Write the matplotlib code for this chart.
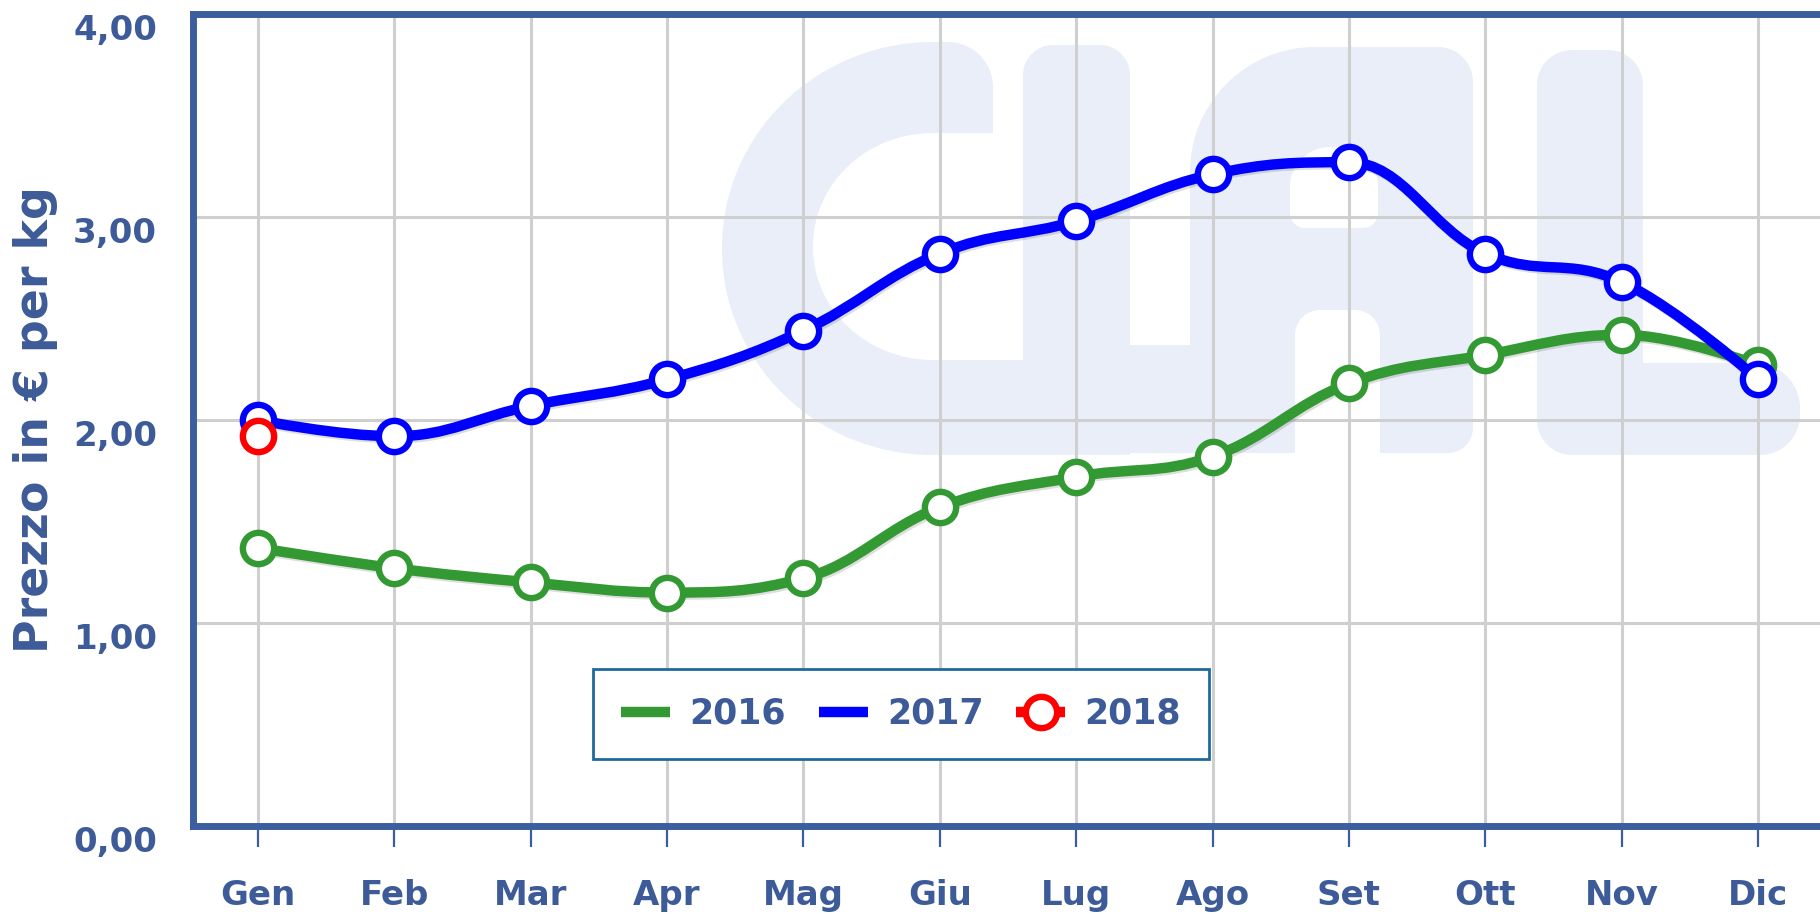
import numpy as np
import matplotlib
matplotlib.use('Agg')
import matplotlib.pyplot as plt
from matplotlib.path import Path
from matplotlib.patches import PathPatch
from matplotlib.lines import Line2D
import matplotlib.transforms as mtransforms
import matplotlib.patheffects as pe

# ---------------- data ----------------
months = ['Gen', 'Feb', 'Mar', 'Apr', 'Mag', 'Giu', 'Lug', 'Ago', 'Set', 'Ott', 'Nov', 'Dic']
prezzi_2016 = [1.37, 1.27, 1.20, 1.15, 1.22, 1.57, 1.72, 1.82, 2.18, 2.32, 2.42, 2.27]
prezzi_2017 = [2.00, 1.92, 2.07, 2.20, 2.44, 2.82, 2.98, 3.21, 3.27, 2.82, 2.68, 2.20]
prezzi_2018 = [1.92]
series_names = ['2016', '2017', '2018']
y_ticks = [0, 1, 2, 3, 4]
y_tick_labels = ['0,00', '1,00', '2,00', '3,00', '4,00']
y_label = 'Prezzo in € per kg'

# ---------------- style ----------------
c16, c17, c18 = '#339933', '#0000ff', '#ff0000'
axis_color = '#3b5e9e'
text_color = '#3d5b98'
grid_color = '#cfcfcf'
wm_color = '#e9eef9'
LW = 7.5
MS = 22.5
MEW = 4.6
TICK_FS = 24.5

W, H = 1820, 914
fig = plt.figure(figsize=(W / 100, H / 100), dpi=100)
ax_left, ax_top, ax_bottom, ax_right = 192.5, 14, 826, 1823.5
ax = fig.add_axes([ax_left / W, 1 - ax_bottom / H, (ax_right - ax_left) / W, (ax_bottom - ax_top) / H])
ax.set_xlim(-0.48, 11.48)
ax.set_ylim(0, 4)


def spline_path(xs, ys, smoothing=1.5):
    """Highcharts-style spline through the points."""
    n = len(xs)
    right = [None] * n
    verts = [(xs[0], ys[0])]
    codes = [Path.MOVETO]
    for i in range(1, n):
        px, py = xs[i], ys[i]
        lx, ly = px, py
        if i < n - 1:
            lastX, lastY = xs[i - 1], ys[i - 1]
            nextX, nextY = xs[i + 1], ys[i + 1]
            denom = smoothing + 1
            lcx = (smoothing * px + lastX) / denom
            lcy = (smoothing * py + lastY) / denom
            rcx = (smoothing * px + nextX) / denom
            rcy = (smoothing * py + nextY) / denom
            corr = 0
            if rcx != lcx:
                corr = (rcy - lcy) * (rcx - px) / (rcx - lcx) + py - rcy
            lcy += corr
            rcy += corr
            if lcy > lastY and lcy > py:
                lcy = max(lastY, py); rcy = 2 * py - lcy
            elif lcy < lastY and lcy < py:
                lcy = min(lastY, py); rcy = 2 * py - lcy
            if rcy > nextY and rcy > py:
                rcy = max(nextY, py); lcy = 2 * py - rcy
            elif rcy < nextY and rcy < py:
                rcy = min(nextY, py); lcy = 2 * py - rcy
            lx, ly = lcx, lcy
            right[i] = (rcx, rcy)
        prev_r = right[i - 1] if right[i - 1] is not None else (xs[i - 1], ys[i - 1])
        verts += [prev_r, (lx, ly), (px, py)]
        codes += [Path.CURVE4] * 3
    return Path(verts, codes)


# ---------------- watermark (decorative logo) ----------------
K = 0.5523


def rr_path(x0, y0, x1, y1, tl=0, trr=0, br=0, bl=0):
    def r2(r):
        return (r, r) if np.isscalar(r) else r
    tl, trr, br, bl = map(r2, (tl, trr, br, bl))
    verts, codes = [], []

    def corner(p0, c, p3):
        verts.extend([(p0[0] + K * (c[0] - p0[0]), p0[1] + K * (c[1] - p0[1])),
                      (p3[0] + K * (c[0] - p3[0]), p3[1] + K * (c[1] - p3[1])), p3])
        codes.extend([Path.CURVE4] * 3)
    verts.append((x0 + tl[0], y0)); codes.append(Path.MOVETO)
    verts.append((x1 - trr[0], y0)); codes.append(Path.LINETO)
    corner((x1 - trr[0], y0), (x1, y0), (x1, y0 + trr[1]))
    verts.append((x1, y1 - br[1])); codes.append(Path.LINETO)
    corner((x1, y1 - br[1]), (x1, y1), (x1 - br[0], y1))
    verts.append((x0 + bl[0], y1)); codes.append(Path.LINETO)
    corner((x0 + bl[0], y1), (x0, y1), (x0, y1 - bl[1]))
    verts.append((x0, y0 + tl[1])); codes.append(Path.LINETO)
    corner((x0, y0 + tl[1]), (x0, y0), (x0 + tl[0], y0))
    verts.append((x0 + tl[0], y0)); codes.append(Path.CLOSEPOLY)
    return Path(verts, codes)


px_tr = mtransforms.Affine2D().scale(1 / W, -1 / H).translate(0, 1) + fig.transFigure
wm_fill = [
    (722, 42, 993, 455, dict(tl=(211, 206), trr=45, bl=(211, 206))),
    (933, 360, 1030, 455, {}),
    (1023, 45, 1130, 455, dict(tl=30, trr=30)),
    (1125, 345, 1195, 453, {}),
    (1190, 47, 1473, 453, dict(tl=(125, 125), trr=35, br=25)),
    (1537, 50, 1643, 455, dict(tl=35, trr=35, bl=35)),
    (1600, 363, 1800, 455, dict(trr=45, br=40)),
]
wm_cut = [
    (813, 133, 1023, 360, dict(tl=(120, 113), bl=(120, 113), br=12)),
    (1290, 147, 1378, 228, dict(tl=40, trr=40, br=15, bl=15)),
    (1295, 310, 1380, 470, dict(tl=25, trr=25)),
]
for x0, y0, x1, y1, kw in wm_fill:
    ax.add_patch(PathPatch(rr_path(x0, y0, x1, y1, **kw), transform=px_tr,
                           facecolor=wm_color, edgecolor='none', zorder=0.1))
for x0, y0, x1, y1, kw in wm_cut:
    ax.add_patch(PathPatch(rr_path(x0, y0, x1, y1, **kw), transform=px_tr,
                           facecolor='white', edgecolor='none', zorder=0.2))

# ---------------- series ----------------
x = np.arange(len(months))
shadow = [pe.SimpleLineShadow(offset=(1.2, -1.5), shadow_color='black', alpha=0.13), pe.Normal()]
for vals, color, z in [(prezzi_2016, c16, 3), (prezzi_2017, c17, 5)]:
    xs = x[:len(vals)]
    ax.add_patch(PathPatch(spline_path(list(xs), list(vals)), fill=False, edgecolor=color,
                           lw=LW, capstyle='round', joinstyle='round', zorder=z,
                           path_effects=shadow))
    ax.plot(xs, vals, linestyle='none', marker='o', ms=MS, mew=MEW, mec=color,
            mfc='white', zorder=z + 0.5)
ax.plot(x[:len(prezzi_2018)], prezzi_2018, linestyle='none', marker='o', ms=MS, mew=MEW,
        mec=c18, mfc='white', zorder=7)

# ---------------- axes styling ----------------
ax.set_axisbelow(True)
ax.grid(True, color=grid_color, lw=2.2)
ax.spines['right'].set_visible(False)
for s in ['left', 'top', 'bottom']:
    ax.spines[s].set_color(axis_color)
    ax.spines[s].set_linewidth(5)

ax.set_xticks(x)
ax.set_xticklabels(months)
ax.set_yticks(y_ticks)
ax.set_yticklabels(y_tick_labels)
ax.tick_params(axis='x', direction='out', length=15, width=1.6, color=axis_color,
               pad=23, labelsize=TICK_FS, labelcolor=text_color)
ax.tick_params(axis='y', length=0, pad=25.5, labelsize=TICK_FS, labelcolor=text_color)
for lab in ax.get_xticklabels() + ax.get_yticklabels():
    lab.set_fontweight('bold')
off = mtransforms.ScaledTranslation(0, -0.13, fig.dpi_scale_trans)
for t in ax.yaxis.get_major_ticks():
    t.label1.set_transform(t.label1.get_transform() + off)

ax.set_ylabel(y_label, fontsize=33, fontweight='bold', color=text_color, va='center')
ax.yaxis.set_label_coords((36 - ax_left) / (ax_right - ax_left), 0.5)

# ---------------- legend ----------------
handles = [
    Line2D([], [], color=c16, lw=LW, solid_capstyle='butt'),
    Line2D([], [], color=c17, lw=LW, solid_capstyle='butt'),
    Line2D([], [], color=c18, lw=LW, solid_capstyle='butt', marker='o', ms=MS, mew=MEW,
           mfc='white', mec=c18),
]
leg = ax.legend(handles, series_names, loc='center', bbox_to_anchor=(901 / W, 1 - 714 / H),
                bbox_transform=fig.transFigure, ncol=3, frameon=True, fancybox=False,
                edgecolor='#1f6a9a', framealpha=1, prop={'weight': 'bold', 'size': 25},
                handlelength=1.41, handletextpad=0.55, columnspacing=0.95, borderpad=0.8,
                borderaxespad=0, numpoints=1)
leg.get_frame().set_linewidth(2)
leg.set_zorder(10)
for t in leg.get_texts():
    t.set_color(text_color)

fig.savefig('out.png', dpi=100)
